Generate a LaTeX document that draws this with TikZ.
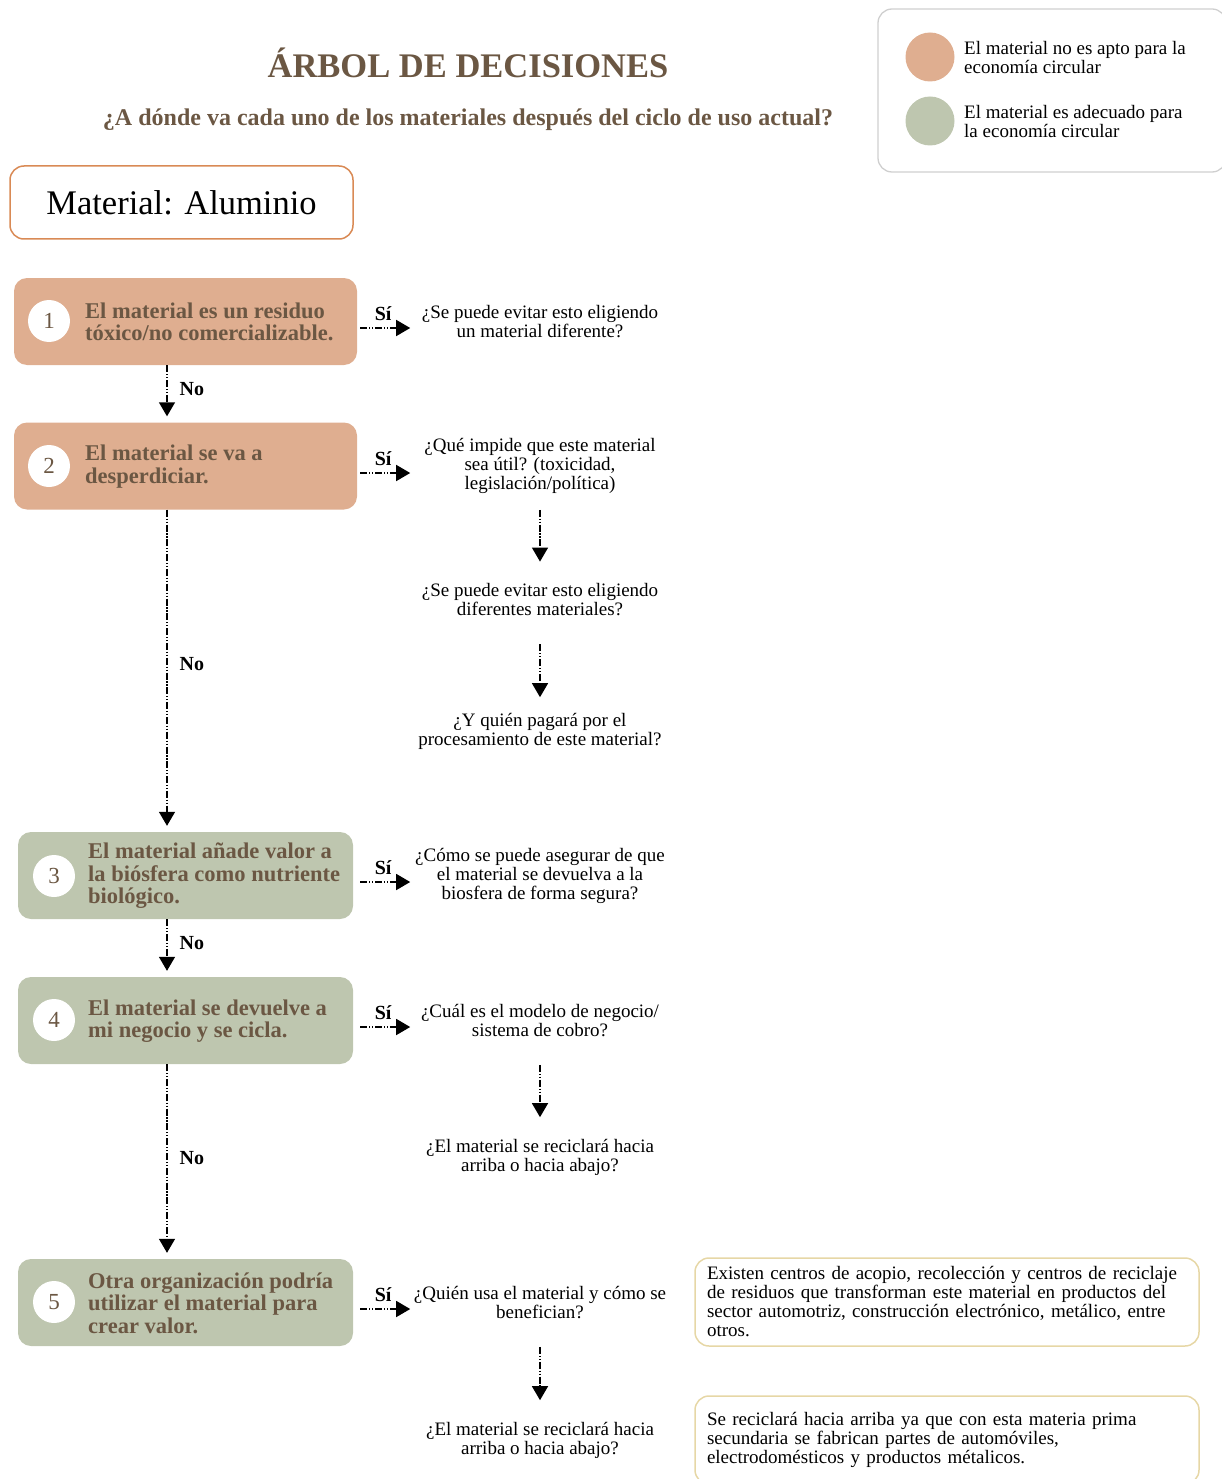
\documentclass[tikz,border=0pt]{standalone}
\usepackage{fontspec}
\setmainfont{Liberation Serif}
\usetikzlibrary{arrows.meta,positioning}

\definecolor{salmon}{HTML}{DFAE90}
\definecolor{sage}{HTML}{BEC6AF}
\definecolor{brownink}{HTML}{6B5743}
\definecolor{matborder}{HTML}{D98A55}
\definecolor{legendborder}{HTML}{CFCFCF}
\definecolor{noteborder}{HTML}{E6D7A6}

\tikzset{
  salmonbox/.style={fill=salmon, rounded corners=13pt, minimum width=343pt, minimum height=87pt, inner sep=0pt},
  sagebox/.style={fill=sage, rounded corners=13pt, minimum width=335pt, minimum height=87pt, inner sep=0pt},
  numdot/.style={circle, fill=white, minimum size=42pt, inner sep=0pt, text=brownink, font=\fontsize{23}{24}\selectfont},
  boxtext/.style={anchor=west, align=left, text=brownink, inner sep=0pt, font=\fontsize{22.5}{22.5}\selectfont\bfseries},
  question/.style={align=center, inner sep=0pt, font=\fontsize{19}{19}\selectfont},
  notebox/.style={draw=noteborder, line width=1.5pt, rounded corners=14pt, minimum width=504pt, minimum height=88pt, text width=480pt, align=left, inner sep=0pt, font=\fontsize{19}{19}\selectfont},
  flow/.style={line width=1.4pt, dash pattern=on 7pt off 1.8pt on 1.2pt off 1.8pt on 1.2pt off 1.8pt, -{Triangle[width=16pt,length=14pt]}},
  yeslabel/.style={above=7pt, inner sep=0pt, pos=0.46, font=\fontsize{20}{20}\selectfont\bfseries},
  nolabel/.style={right=12pt, inner sep=0pt, font=\fontsize{20}{20}\selectfont\bfseries},
}

\begin{document}
\begin{tikzpicture}[x=1pt,y=-1pt]
\useasboundingbox (0,0) rectangle (1222,1479);

% legend
\draw[draw=legendborder, line width=1.3pt, rounded corners=14pt] (878,9) rectangle (1226,172);
\fill[salmon] (930,57) circle (24.5);
\fill[sage] (930,121) circle (24.5);
\node[anchor=west, align=left, inner sep=0pt, font=\fontsize{19}{19}\selectfont] (lg1) at (964,57.5) {El material no es apto para la\\economía circular};
\node[anchor=west, align=left, inner sep=0pt, font=\fontsize{19}{19}\selectfont] (lg2) at (964,121.5) {El material es adecuado para\\la economía circular};

% headings
\node[text=brownink, font=\fontsize{34.5}{36}\selectfont\bfseries] (title) at (468,63) {ÁRBOL DE DECISIONES};
\node[text=brownink, font=\fontsize{24}{26}\selectfont\bfseries] (subtitle) at (468,120) {¿A dónde va cada uno de los materiales después del ciclo de uso actual?};

% material
\node[draw=matborder, line width=1.5pt, rounded corners=14pt, minimum width=343pt, minimum height=73pt, inner sep=0pt, font=\fontsize{34.5}{36}\selectfont] (mat) at (181.5,202.5) {Material: Aluminio};

% spine of the decision column
\coordinate (spine) at (167,0);

% decision 1
\node[salmonbox] (b1) at (185.5,321.5) {};
\node[numdot] (n1) at (49,321) {1};
\node[boxtext] (t1) at (85,322) {El material es un residuo\\tóxico/no comercializable.};

% decision 2
\node[salmonbox] (b2) at (185.5,466) {};
\node[numdot] (n2) at (49,466) {2};
\node[boxtext] (t2) at (85,466.5) {El material se va a\\desperdiciar.};

% decision 3
\node[sagebox] (b3) at (185.5,875.5) {};
\node[numdot] (n3) at (54,876) {3};
\node[boxtext] (t3) at (88,876) {El material añade valor a\\la biósfera como nutriente\\biológico.};

% decision 4
\node[sagebox] (b4) at (185.5,1020.5) {};
\node[numdot] (n4) at (54,1020) {4};
\node[boxtext] (t4) at (88,1021) {El material se devuelve a\\mi negocio y se cicla.};

% decision 5
\node[sagebox] (b5) at (185.5,1302.5) {};
\node[numdot] (n5) at (54,1302) {5};
\node[boxtext] (t5) at (88,1303) {Otra organización podría\\utilizar el material para\\crear valor.};

% "No" connectors
\draw[flow, shorten >=6pt] (b1.south -| spine) -- node[nolabel, pos=0.42] {No} (b2.north -| spine);
\draw[flow, shorten >=6pt] (b2.south -| spine) -- node[nolabel, pos=0.48] {No} (b3.north -| spine);
\draw[flow, shorten >=6pt] (b3.south -| spine) -- node[nolabel, pos=0.42] {No} (b4.north -| spine);
\draw[flow, shorten >=6pt] (b4.south -| spine) -- node[nolabel, pos=0.48] {No} (b5.north -| spine);

% questions
\node[question] (q1) at (540,321.5) {¿Se puede evitar esto eligiendo\\un material diferente?};
\node[question] (q2a) at (540,466) {¿Qué impide que este material\\sea útil? (toxicidad,\\legislación/política)};
\node[question] (q2b) at (540,600) {¿Se puede evitar esto eligiendo\\diferentes materiales?};
\node[question] (q2c) at (540,731.5) {¿Y quién pagará por el\\procesamiento de este material?};
\node[question] (q3) at (540,876) {¿Cómo se puede asegurar de que\\el material se devuelva a la\\biosfera de forma segura?};
\node[question] (q4a) at (540,1020.5) {¿Cuál es el modelo de negocio/\\sistema de cobro?};
\node[question] (q4b) at (540,1157.5) {¿El material se reciclará hacia\\arriba o hacia abajo?};
\node[question] (q5a) at (540,1302.5) {¿Quién usa el material y cómo se\\benefician?};
\node[question] (q5b) at (540,1440.5) {¿El material se reciclará hacia\\arriba o hacia abajo?};

% "Sí" connectors
\draw[flow] ([xshift=3pt,yshift=-6.5pt]b1.east) -- node[yeslabel] {Sí} ++(50,0);
\draw[flow] ([xshift=3pt,yshift=-7pt]b2.east) -- node[yeslabel] {Sí} ++(50,0);
\draw[flow] ([xshift=7pt,yshift=-6.5pt]b3.east) -- node[yeslabel] {Sí} ++(50,0);
\draw[flow] ([xshift=7pt,yshift=-6.5pt]b4.east) -- node[yeslabel] {Sí} ++(50,0);
\draw[flow] ([xshift=7pt,yshift=-6.5pt]b5.east) -- node[yeslabel] {Sí} ++(50,0);

% follow-up questions
\draw[flow] ([yshift=-16pt]q2a.south) -- ([yshift=22pt]q2b.north);
\draw[flow] ([yshift=-28pt]q2b.south) -- ([yshift=16pt]q2c.north);
\draw[flow] ([yshift=-28pt]q4a.south) -- ([yshift=22pt]q4b.north);
\draw[flow] ([yshift=-28pt]q5a.south) -- ([yshift=22pt]q5b.north);

% notes
\node[notebox] (na) at (947,1302) {Existen centros de acopio, recolección y centros de reciclaje\\de residuos que transforman este material en productos del\\sector automotriz, construcción electrónico, metálico, entre\\otros.};
\node[notebox] (nb) at (947,1440) {Se reciclará hacia arriba ya que con esta materia prima\\secundaria se fabrican partes de automóviles,\\electrodomésticos y productos métalicos.};
\end{tikzpicture}
\end{document}
